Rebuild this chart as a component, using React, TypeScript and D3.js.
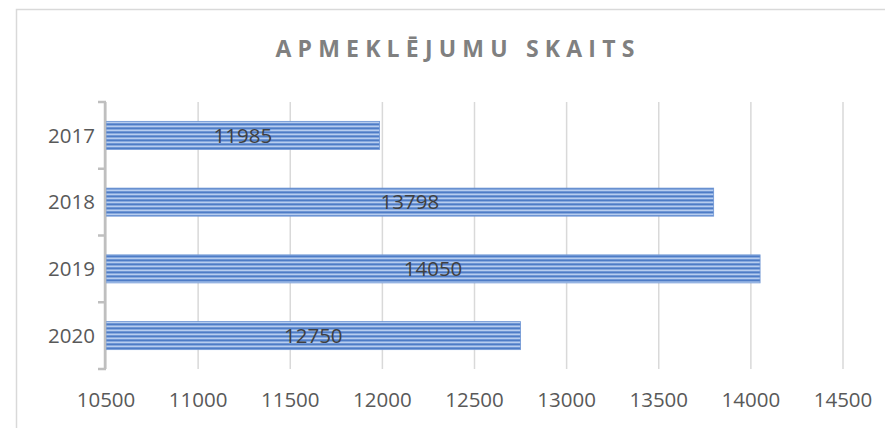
import React from "react";
import * as d3 from "d3";

const title = "APMEKLĒJUMU SKAITS";
const categories = ["2017", "2018", "2019", "2020"];
const values = [11985, 13798, 14050, 12750];
const xTicks = [10500, 11000, 11500, 12000, 12500, 13000, 13500, 14000, 14500];

export default function App() {
  const W = 885, H = 428;
  const left = 106, right = 843, top = 102, bottom = 369;
  const x = d3.scaleLinear().domain([10500, 14500]).range([left, right]);
  const y = d3.scaleBand().domain(categories).range([top, bottom]).paddingInner(0.58).paddingOuter(0.29);
  const font = "'Open Sans', 'Liberation Sans', sans-serif";
  const boundaries = d3.range(categories.length + 1).map((i) => top + (i * (bottom - top)) / categories.length);
  return (
    <svg width={W} height={H} style={{ position: "absolute", left: 0, top: 0, background: "#fff" }}>
      <defs>
        <pattern id="stripes" patternUnits="userSpaceOnUse" width={8} height={4}>
          <rect width={8} height={4} fill="#b7cdef" />
          <rect y={0} width={8} height={1} fill="#4e7cc6" />
          <rect y={1} width={8} height={1} fill="#87a9de" />
          <rect y={3} width={8} height={1} fill="#6f96d4" />
        </pattern>
      </defs>
      <rect x={16.5} y={9.5} width={900} height={440} fill="#fff" stroke="#d9d9d9" strokeWidth={1.5} />
      <text x={458} y={57} textAnchor="middle" fontFamily={font} fontWeight={700} fontSize={23} letterSpacing={6.2} fill="#808080">
        {title}
      </text>
      {xTicks.map((t) => (
        <line key={t} x1={x(t)} x2={x(t)} y1={top} y2={bottom} stroke="#d9d9d9" strokeWidth={1.5} />
      ))}
      {categories.map((c, i) => (
        <g key={c}>
          <rect x={x(10500)} y={y(c)!} width={x(values[i]) - x(10500)} height={y.bandwidth()} fill="url(#stripes)" stroke="#6f96d4" strokeWidth={0.8} />
          <text x={(x(10500) + x(values[i])) / 2} y={y(c)! + y.bandwidth() / 2} dy="0.35em" textAnchor="middle" fontFamily={font} fontSize={20.5} fill="#404040">
            {values[i]}
          </text>
          <text x={95} y={y(c)! + y.bandwidth() / 2} dy="0.35em" textAnchor="end" fontFamily={font} fontSize={20.5} fill="#595959">
            {c}
          </text>
        </g>
      ))}
      <line x1={left - 1} x2={left - 1} y1={top} y2={bottom} stroke="#bfbfbf" strokeWidth={2.5} />
      {boundaries.map((b, i) => (
        <line key={i} x1={left - 8} x2={left} y1={b} y2={b} stroke="#bfbfbf" strokeWidth={2.5} />
      ))}
      {xTicks.map((t) => (
        <text key={t} x={x(t)} y={400} dy="0.35em" textAnchor="middle" fontFamily={font} fontSize={20.5} fill="#595959">
          {t}
        </text>
      ))}
    </svg>
  );
}
